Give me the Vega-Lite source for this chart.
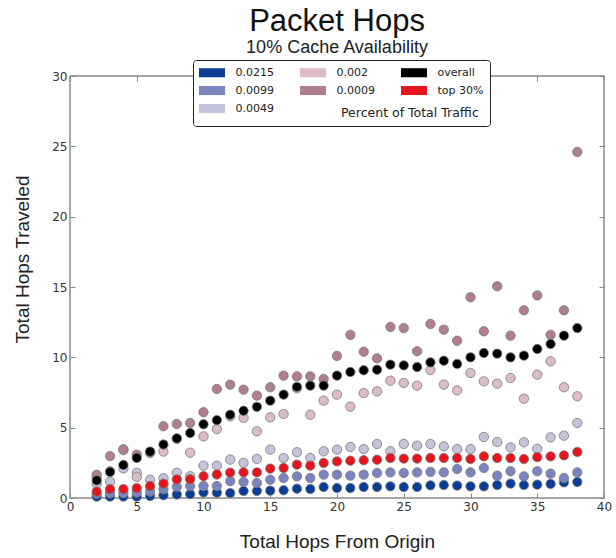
{
  "$schema": "https://vega.github.io/schema/vega-lite/v6.json",
  "width": 534,
  "height": 422,
  "autosize": {"type": "none"},
  "padding": {"left": 70, "top": 76, "right": 12, "bottom": 60},
  "background": "white",
  "title": {
    "text": "Packet Hops",
    "subtitle": "10% Cache Availability",
    "anchor": "middle",
    "frame": "group",
    "font": "Liberation Sans",
    "fontSize": 31,
    "fontWeight": "normal",
    "color": "#111",
    "subtitleFont": "Liberation Sans",
    "subtitleFontSize": 18,
    "subtitleColor": "#222",
    "subtitlePadding": 1,
    "offset": 2
  },
  "config": {
    "view": {"stroke": "#8a8a8a", "strokeWidth": 1.5},
    "axis": {
      "grid": false,
      "domain": false,
      "labelFont": "DejaVu Sans",
      "labelFontSize": 12,
      "labelColor": "#333",
      "tickColor": "#8a8a8a",
      "tickSize": -5,
      "titleFont": "Liberation Sans",
      "titleFontSize": 19,
      "titleFontWeight": "normal",
      "titleColor": "#222"
    }
  },
  "datasets": {
    "pts": [
      {"hops":2,"traveled":0.1,"series":"0.0215"},{"hops":3,"traveled":0.1,"series":"0.0215"},{"hops":4,"traveled":0.1,"series":"0.0215"},{"hops":5,"traveled":0.1,"series":"0.0215"},{"hops":6,"traveled":0.14,"series":"0.0215"},{"hops":7,"traveled":0.2,"series":"0.0215"},{"hops":8,"traveled":0.25,"series":"0.0215"},{"hops":9,"traveled":0.28,"series":"0.0215"},{"hops":10,"traveled":0.4,"series":"0.0215"},{"hops":11,"traveled":0.38,"series":"0.0215"},{"hops":12,"traveled":0.35,"series":"0.0215"},{"hops":13,"traveled":0.5,"series":"0.0215"},{"hops":14,"traveled":0.5,"series":"0.0215"},{"hops":15,"traveled":0.52,"series":"0.0215"},{"hops":16,"traveled":0.55,"series":"0.0215"},{"hops":17,"traveled":0.66,"series":"0.0215"},{"hops":18,"traveled":0.64,"series":"0.0215"},{"hops":19,"traveled":0.78,"series":"0.0215"},{"hops":20,"traveled":0.71,"series":"0.0215"},{"hops":21,"traveled":0.71,"series":"0.0215"},{"hops":22,"traveled":0.78,"series":"0.0215"},{"hops":23,"traveled":0.78,"series":"0.0215"},{"hops":24,"traveled":0.83,"series":"0.0215"},{"hops":25,"traveled":0.78,"series":"0.0215"},{"hops":26,"traveled":0.78,"series":"0.0215"},{"hops":27,"traveled":0.9,"series":"0.0215"},{"hops":28,"traveled":0.92,"series":"0.0215"},{"hops":29,"traveled":0.88,"series":"0.0215"},{"hops":30,"traveled":0.83,"series":"0.0215"},{"hops":31,"traveled":0.83,"series":"0.0215"},{"hops":32,"traveled":0.92,"series":"0.0215"},{"hops":33,"traveled":1.02,"series":"0.0215"},{"hops":34,"traveled":0.92,"series":"0.0215"},{"hops":35,"traveled":0.95,"series":"0.0215"},{"hops":36,"traveled":1.0,"series":"0.0215"},{"hops":37,"traveled":1.11,"series":"0.0215"},{"hops":38,"traveled":1.14,"series":"0.0215"},
      {"hops":2,"traveled":0.3,"series":"0.0099"},{"hops":3,"traveled":0.33,"series":"0.0099"},{"hops":4,"traveled":0.35,"series":"0.0099"},{"hops":5,"traveled":0.38,"series":"0.0099"},{"hops":6,"traveled":0.45,"series":"0.0099"},{"hops":7,"traveled":0.62,"series":"0.0099"},{"hops":8,"traveled":0.8,"series":"0.0099"},{"hops":9,"traveled":0.85,"series":"0.0099"},{"hops":10,"traveled":0.85,"series":"0.0099"},{"hops":11,"traveled":0.85,"series":"0.0099"},{"hops":12,"traveled":1.2,"series":"0.0099"},{"hops":13,"traveled":1.14,"series":"0.0099"},{"hops":14,"traveled":1.07,"series":"0.0099"},{"hops":15,"traveled":1.3,"series":"0.0099"},{"hops":16,"traveled":1.42,"series":"0.0099"},{"hops":17,"traveled":1.54,"series":"0.0099"},{"hops":18,"traveled":1.42,"series":"0.0099"},{"hops":19,"traveled":1.66,"series":"0.0099"},{"hops":20,"traveled":1.66,"series":"0.0099"},{"hops":21,"traveled":1.59,"series":"0.0099"},{"hops":22,"traveled":1.66,"series":"0.0099"},{"hops":23,"traveled":1.78,"series":"0.0099"},{"hops":24,"traveled":1.82,"series":"0.0099"},{"hops":25,"traveled":1.78,"series":"0.0099"},{"hops":26,"traveled":1.82,"series":"0.0099"},{"hops":27,"traveled":1.86,"series":"0.0099"},{"hops":28,"traveled":1.82,"series":"0.0099"},{"hops":29,"traveled":2.06,"series":"0.0099"},{"hops":30,"traveled":1.82,"series":"0.0099"},{"hops":31,"traveled":2.13,"series":"0.0099"},{"hops":32,"traveled":1.59,"series":"0.0099"},{"hops":33,"traveled":1.9,"series":"0.0099"},{"hops":34,"traveled":1.54,"series":"0.0099"},{"hops":35,"traveled":1.9,"series":"0.0099"},{"hops":36,"traveled":1.73,"series":"0.0099"},{"hops":37,"traveled":1.42,"series":"0.0099"},{"hops":38,"traveled":1.82,"series":"0.0099"},
      {"hops":2,"traveled":1.0,"series":"0.0049"},{"hops":3,"traveled":1.16,"series":"0.0049"},{"hops":4,"traveled":2.1,"series":"0.0049"},{"hops":5,"traveled":1.8,"series":"0.0049"},{"hops":6,"traveled":1.3,"series":"0.0049"},{"hops":7,"traveled":1.4,"series":"0.0049"},{"hops":8,"traveled":1.8,"series":"0.0049"},{"hops":9,"traveled":1.55,"series":"0.0049"},{"hops":10,"traveled":2.3,"series":"0.0049"},{"hops":11,"traveled":2.3,"series":"0.0049"},{"hops":12,"traveled":2.73,"series":"0.0049"},{"hops":13,"traveled":2.5,"series":"0.0049"},{"hops":14,"traveled":2.78,"series":"0.0049"},{"hops":15,"traveled":3.44,"series":"0.0049"},{"hops":16,"traveled":2.84,"series":"0.0049"},{"hops":17,"traveled":3.25,"series":"0.0049"},{"hops":18,"traveled":2.84,"series":"0.0049"},{"hops":19,"traveled":3.32,"series":"0.0049"},{"hops":20,"traveled":3.44,"series":"0.0049"},{"hops":21,"traveled":3.63,"series":"0.0049"},{"hops":22,"traveled":3.48,"series":"0.0049"},{"hops":23,"traveled":3.84,"series":"0.0049"},{"hops":24,"traveled":3.32,"series":"0.0049"},{"hops":25,"traveled":3.84,"series":"0.0049"},{"hops":26,"traveled":3.72,"series":"0.0049"},{"hops":27,"traveled":3.84,"series":"0.0049"},{"hops":28,"traveled":3.67,"series":"0.0049"},{"hops":29,"traveled":3.48,"series":"0.0049"},{"hops":30,"traveled":3.48,"series":"0.0049"},{"hops":31,"traveled":4.34,"series":"0.0049"},{"hops":32,"traveled":3.98,"series":"0.0049"},{"hops":33,"traveled":3.6,"series":"0.0049"},{"hops":34,"traveled":3.96,"series":"0.0049"},{"hops":35,"traveled":3.5,"series":"0.0049"},{"hops":36,"traveled":4.31,"series":"0.0049"},{"hops":37,"traveled":4.43,"series":"0.0049"},{"hops":38,"traveled":5.33,"series":"0.0049"},
      {"hops":2,"traveled":1.5,"series":"0.002"},{"hops":3,"traveled":1.9,"series":"0.002"},{"hops":4,"traveled":3.4,"series":"0.002"},{"hops":5,"traveled":1.5,"series":"0.002"},{"hops":6,"traveled":3.2,"series":"0.002"},{"hops":7,"traveled":3.3,"series":"0.002"},{"hops":8,"traveled":4.2,"series":"0.002"},{"hops":9,"traveled":3.22,"series":"0.002"},{"hops":10,"traveled":4.38,"series":"0.002"},{"hops":11,"traveled":4.9,"series":"0.002"},{"hops":12,"traveled":5.8,"series":"0.002"},{"hops":13,"traveled":5.7,"series":"0.002"},{"hops":14,"traveled":4.74,"series":"0.002"},{"hops":15,"traveled":5.73,"series":"0.002"},{"hops":16,"traveled":5.97,"series":"0.002"},{"hops":17,"traveled":7.8,"series":"0.002"},{"hops":18,"traveled":5.92,"series":"0.002"},{"hops":19,"traveled":6.92,"series":"0.002"},{"hops":20,"traveled":7.35,"series":"0.002"},{"hops":21,"traveled":6.5,"series":"0.002"},{"hops":22,"traveled":7.46,"series":"0.002"},{"hops":23,"traveled":7.58,"series":"0.002"},{"hops":24,"traveled":8.34,"series":"0.002"},{"hops":25,"traveled":8.18,"series":"0.002"},{"hops":26,"traveled":7.99,"series":"0.002"},{"hops":27,"traveled":9.1,"series":"0.002"},{"hops":28,"traveled":8.06,"series":"0.002"},{"hops":29,"traveled":7.65,"series":"0.002"},{"hops":30,"traveled":8.89,"series":"0.002"},{"hops":31,"traveled":8.29,"series":"0.002"},{"hops":32,"traveled":8.13,"series":"0.002"},{"hops":33,"traveled":8.53,"series":"0.002"},{"hops":34,"traveled":7.06,"series":"0.002"},{"hops":35,"traveled":8.77,"series":"0.002"},{"hops":36,"traveled":9.72,"series":"0.002"},{"hops":37,"traveled":7.87,"series":"0.002"},{"hops":38,"traveled":7.23,"series":"0.002"},
      {"hops":2,"traveled":1.65,"series":"0.0009"},{"hops":3,"traveled":2.98,"series":"0.0009"},{"hops":4,"traveled":3.47,"series":"0.0009"},{"hops":5,"traveled":3.08,"series":"0.0009"},{"hops":6,"traveled":3.25,"series":"0.0009"},{"hops":7,"traveled":5.1,"series":"0.0009"},{"hops":8,"traveled":5.26,"series":"0.0009"},{"hops":9,"traveled":5.33,"series":"0.0009"},{"hops":10,"traveled":6.1,"series":"0.0009"},{"hops":11,"traveled":7.75,"series":"0.0009"},{"hops":12,"traveled":8.06,"series":"0.0009"},{"hops":13,"traveled":7.7,"series":"0.0009"},{"hops":14,"traveled":7.28,"series":"0.0009"},{"hops":15,"traveled":7.87,"series":"0.0009"},{"hops":16,"traveled":8.7,"series":"0.0009"},{"hops":17,"traveled":8.65,"series":"0.0009"},{"hops":18,"traveled":8.65,"series":"0.0009"},{"hops":19,"traveled":8.46,"series":"0.0009"},{"hops":20,"traveled":10.1,"series":"0.0009"},{"hops":21,"traveled":11.6,"series":"0.0009"},{"hops":22,"traveled":10.4,"series":"0.0009"},{"hops":23,"traveled":9.93,"series":"0.0009"},{"hops":24,"traveled":12.16,"series":"0.0009"},{"hops":25,"traveled":12.08,"series":"0.0009"},{"hops":26,"traveled":10.43,"series":"0.0009"},{"hops":27,"traveled":12.37,"series":"0.0009"},{"hops":28,"traveled":11.97,"series":"0.0009"},{"hops":29,"traveled":11.18,"series":"0.0009"},{"hops":30,"traveled":14.27,"series":"0.0009"},{"hops":31,"traveled":11.85,"series":"0.0009"},{"hops":32,"traveled":15.05,"series":"0.0009"},{"hops":33,"traveled":11.54,"series":"0.0009"},{"hops":34,"traveled":13.34,"series":"0.0009"},{"hops":35,"traveled":14.4,"series":"0.0009"},{"hops":36,"traveled":11.6,"series":"0.0009"},{"hops":37,"traveled":13.34,"series":"0.0009"},{"hops":38,"traveled":24.6,"series":"0.0009"},
      {"hops":2,"traveled":1.25,"series":"overall"},{"hops":3,"traveled":1.85,"series":"overall"},{"hops":4,"traveled":2.35,"series":"overall"},{"hops":5,"traveled":2.85,"series":"overall"},{"hops":6,"traveled":3.3,"series":"overall"},{"hops":7,"traveled":3.8,"series":"overall"},{"hops":8,"traveled":4.24,"series":"overall"},{"hops":9,"traveled":4.62,"series":"overall"},{"hops":10,"traveled":5.24,"series":"overall"},{"hops":11,"traveled":5.53,"series":"overall"},{"hops":12,"traveled":5.92,"series":"overall"},{"hops":13,"traveled":6.2,"series":"overall"},{"hops":14,"traveled":6.48,"series":"overall"},{"hops":15,"traveled":6.92,"series":"overall"},{"hops":16,"traveled":7.35,"series":"overall"},{"hops":17,"traveled":7.9,"series":"overall"},{"hops":18,"traveled":7.99,"series":"overall"},{"hops":19,"traveled":7.99,"series":"overall"},{"hops":20,"traveled":8.7,"series":"overall"},{"hops":21,"traveled":8.96,"series":"overall"},{"hops":22,"traveled":9.08,"series":"overall"},{"hops":23,"traveled":9.12,"series":"overall"},{"hops":24,"traveled":9.48,"series":"overall"},{"hops":25,"traveled":9.43,"series":"overall"},{"hops":26,"traveled":9.31,"series":"overall"},{"hops":27,"traveled":9.64,"series":"overall"},{"hops":28,"traveled":9.76,"series":"overall"},{"hops":29,"traveled":9.53,"series":"overall"},{"hops":30,"traveled":10.0,"series":"overall"},{"hops":31,"traveled":10.31,"series":"overall"},{"hops":32,"traveled":10.26,"series":"overall"},{"hops":33,"traveled":10.0,"series":"overall"},{"hops":34,"traveled":10.12,"series":"overall"},{"hops":35,"traveled":10.59,"series":"overall"},{"hops":36,"traveled":10.95,"series":"overall"},{"hops":37,"traveled":11.54,"series":"overall"},{"hops":38,"traveled":12.08,"series":"overall"},
      {"hops":2,"traveled":0.45,"series":"top 30%"},{"hops":3,"traveled":0.63,"series":"top 30%"},{"hops":4,"traveled":0.63,"series":"top 30%"},{"hops":5,"traveled":0.7,"series":"top 30%"},{"hops":6,"traveled":0.85,"series":"top 30%"},{"hops":7,"traveled":1.02,"series":"top 30%"},{"hops":8,"traveled":1.32,"series":"top 30%"},{"hops":9,"traveled":1.33,"series":"top 30%"},{"hops":10,"traveled":1.55,"series":"top 30%"},{"hops":11,"traveled":1.67,"series":"top 30%"},{"hops":12,"traveled":1.8,"series":"top 30%"},{"hops":13,"traveled":1.82,"series":"top 30%"},{"hops":14,"traveled":1.82,"series":"top 30%"},{"hops":15,"traveled":2.09,"series":"top 30%"},{"hops":16,"traveled":2.13,"series":"top 30%"},{"hops":17,"traveled":2.37,"series":"top 30%"},{"hops":18,"traveled":2.3,"series":"top 30%"},{"hops":19,"traveled":2.49,"series":"top 30%"},{"hops":20,"traveled":2.6,"series":"top 30%"},{"hops":21,"traveled":2.65,"series":"top 30%"},{"hops":22,"traveled":2.68,"series":"top 30%"},{"hops":23,"traveled":2.72,"series":"top 30%"},{"hops":24,"traveled":2.84,"series":"top 30%"},{"hops":25,"traveled":2.8,"series":"top 30%"},{"hops":26,"traveled":2.8,"series":"top 30%"},{"hops":27,"traveled":2.84,"series":"top 30%"},{"hops":28,"traveled":2.84,"series":"top 30%"},{"hops":29,"traveled":2.84,"series":"top 30%"},{"hops":30,"traveled":2.77,"series":"top 30%"},{"hops":31,"traveled":2.96,"series":"top 30%"},{"hops":32,"traveled":2.84,"series":"top 30%"},{"hops":33,"traveled":2.84,"series":"top 30%"},{"hops":34,"traveled":2.77,"series":"top 30%"},{"hops":35,"traveled":2.91,"series":"top 30%"},{"hops":36,"traveled":2.96,"series":"top 30%"},{"hops":37,"traveled":3.03,"series":"top 30%"},{"hops":38,"traveled":3.27,"series":"top 30%"}
    ]
  },
  "data": {"name": "pts"},
  "layer": [
    {
      "mark": {"type": "point", "filled": true, "size": 88, "stroke": "#7a7a7a", "strokeWidth": 0.8, "opacity": 1, "strokeOpacity": 1},
      "encoding": {
        "x": {
          "field": "hops", "type": "quantitative",
          "scale": {"domain": [0, 40], "nice": false, "zero": false},
          "axis": {"title": "Total Hops From Origin", "values": [0,5,10,15,20,25,30,35,40], "labelPadding": 8, "titlePadding": 20, "labelFlush": false}
        },
        "y": {
          "field": "traveled", "type": "quantitative",
          "scale": {"domain": [0, 30], "nice": false},
          "axis": {"title": "Total Hops Traveled", "values": [0,5,10,15,20,25,30], "labelPadding": 8, "titleX": -48, "titleY": 183, "titleAngle": 270, "titleAlign": "center", "titleBaseline": "middle"}
        },
        "color": {
          "field": "series", "type": "nominal",
          "scale": {
            "domain": ["0.0215", "0.002", "overall", "0.0099", "0.0009", "top 30%", "0.0049"],
            "range": ["#0b3c96", "#ddbcc6", "#000000", "#7a85bf", "#b07e8e", "#e8141c", "#c3c3dc"]
          },
          "legend": {
            "title": "Percent of Total Traffic",
            "orient": "none",
            "legendX": 123,
            "legendY": -16,
            "direction": "horizontal",
            "columns": 3,
            "gridAlign": "all",
            "columnPadding": 18,
            "rowPadding": 6,
            "padding": 6,
            "strokeColor": "#222",
            "fillColor": "white",
            "cornerRadius": 3,
            "symbolType": "M-2,-0.7H2V0.7H-2Z",
            "symbolSize": 169,
            "symbolStrokeWidth": 0,
            "symbolOpacity": 1,
            "symbolOffset": 6.5,
            "labelOffset": 17,
            "labelFont": "DejaVu Sans",
            "labelFontSize": 11,
            "labelColor": "#222",
            "titleOrient": "bottom",
            "titleAnchor": "middle",
            "titleAlign": "left",
            "titlePadding": -7,
            "titleFont": "DejaVu Sans",
            "titleFontSize": 12.5,
            "titleFontWeight": "normal",
            "titleColor": "#222"
          }
        }
      }
    },
    {
      "mark": {"type": "point", "opacity": 0},
      "encoding": {
        "x": {"field": "hops", "type": "quantitative", "axis": {"orient": "top", "labels": false, "title": null, "values": [0,5,10,15,20,25,30,35,40]}},
        "y": {"field": "traveled", "type": "quantitative", "axis": {"orient": "right", "labels": false, "title": null, "values": [0,5,10,15,20,25,30]}}
      }
    }
  ],
  "resolve": {"axis": {"x": "independent", "y": "independent"}}
}
